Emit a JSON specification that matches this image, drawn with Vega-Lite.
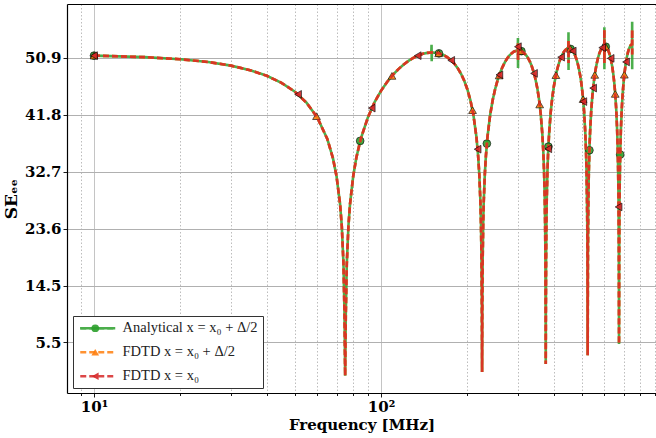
{
  "$schema": "https://vega.github.io/schema/vega-lite/v6.json",
  "width": 589,
  "height": 389,
  "autosize": {"type": "none"},
  "padding": {"left": 67, "top": 4, "right": 0, "bottom": 45},
  "background": "white",
  "config": {"view": {"stroke": null}},
  "datasets": {
    "curve": [
      {"f": 10, "ana": 51.28, "fd1": 51.28, "fd2": 51.28},
      {"f": 15, "ana": 51.04, "fd1": 51.04, "fd2": 51.04},
      {"f": 20, "ana": 50.70, "fd1": 50.70, "fd2": 50.70},
      {"f": 25, "ana": 50.26, "fd1": 50.26, "fd2": 50.26},
      {"f": 30, "ana": 49.68, "fd1": 49.68, "fd2": 49.68},
      {"f": 35, "ana": 48.95, "fd1": 48.95, "fd2": 48.95},
      {"f": 40, "ana": 48.05, "fd1": 48.05, "fd2": 48.05},
      {"f": 45, "ana": 46.93, "fd1": 46.93, "fd2": 46.93},
      {"f": 50, "ana": 45.54, "fd1": 45.54, "fd2": 45.54},
      {"f": 55, "ana": 43.76, "fd1": 43.76, "fd2": 43.76},
      {"f": 60, "ana": 41.38, "fd1": 41.38, "fd2": 41.38},
      {"f": 65, "ana": 37.95, "fd1": 37.95, "fd2": 37.95},
      {"f": 68, "ana": 34.89, "fd1": 34.89, "fd2": 34.89},
      {"f": 70, "ana": 31.98, "fd1": 31.98, "fd2": 31.98},
      {"f": 72, "ana": 27.56, "fd1": 27.56, "fd2": 27.56},
      {"f": 73, "ana": 24.04, "fd1": 24.04, "fd2": 24.04},
      {"f": 74, "ana": 18.02, "fd1": 18.02, "fd2": 18.02},
      {"f": 74.6, "ana": 10.07, "fd1": 10.07, "fd2": 10.07},
      {"f": 75, "ana": 0.1, "fd1": 0.1, "fd2": 0.1},
      {"f": 75.4, "ana": 10.07, "fd1": 10.07, "fd2": 10.07},
      {"f": 76, "ana": 18.03, "fd1": 18.03, "fd2": 18.03},
      {"f": 77, "ana": 24.05, "fd1": 24.05, "fd2": 24.05},
      {"f": 78, "ana": 27.57, "fd1": 27.57, "fd2": 27.57},
      {"f": 80, "ana": 31.99, "fd1": 31.99, "fd2": 31.99},
      {"f": 82, "ana": 34.91, "fd1": 34.91, "fd2": 34.91},
      {"f": 85, "ana": 37.98, "fd1": 37.98, "fd2": 37.98},
      {"f": 90, "ana": 41.40, "fd1": 41.40, "fd2": 41.40},
      {"f": 95, "ana": 43.85, "fd1": 43.85, "fd2": 43.85},
      {"f": 100, "ana": 45.65, "fd1": 45.65, "fd2": 45.65},
      {"f": 105, "ana": 47.06, "fd1": 47.06, "fd2": 47.06},
      {"f": 110, "ana": 48.20, "fd1": 48.20, "fd2": 48.20},
      {"f": 115, "ana": 49.12, "fd1": 49.12, "fd2": 49.12},
      {"f": 120, "ana": 49.87, "fd1": 49.87, "fd2": 49.87},
      {"f": 125, "ana": 50.48, "fd1": 50.48, "fd2": 50.48},
      {"f": 130, "ana": 50.95, "fd1": 50.95, "fd2": 50.95},
      {"f": 135, "ana": 51.31, "fd1": 51.31, "fd2": 51.31},
      {"f": 140, "ana": 51.57, "fd1": 51.57, "fd2": 51.57},
      {"f": 145, "ana": 51.72, "fd1": 51.72, "fd2": 51.72},
      {"f": 149.7, "ana": 51.78, "fd1": 51.78, "fd2": 51.78},
      {"f": 150, "ana": 53.0, "fd1": 51.78, "fd2": 51.78},
      {"f": 150.2, "ana": 50.4, "fd1": 51.78, "fd2": 51.78},
      {"f": 150.4, "ana": 51.78, "fd1": 51.78, "fd2": 51.78},
      {"f": 155, "ana": 51.74, "fd1": 51.74, "fd2": 51.74},
      {"f": 160, "ana": 51.61, "fd1": 51.61, "fd2": 51.61},
      {"f": 165, "ana": 51.37, "fd1": 51.37, "fd2": 51.37},
      {"f": 170, "ana": 51.04, "fd1": 51.04, "fd2": 51.04},
      {"f": 175, "ana": 50.59, "fd1": 50.59, "fd2": 50.59},
      {"f": 180, "ana": 50.01, "fd1": 50.01, "fd2": 50.01},
      {"f": 185, "ana": 49.28, "fd1": 49.28, "fd2": 49.28},
      {"f": 190, "ana": 48.38, "fd1": 48.38, "fd2": 48.38},
      {"f": 195, "ana": 47.26, "fd1": 47.26, "fd2": 47.26},
      {"f": 200, "ana": 45.87, "fd1": 45.87, "fd2": 45.87},
      {"f": 205, "ana": 44.09, "fd1": 44.09, "fd2": 44.09},
      {"f": 210, "ana": 41.71, "fd1": 41.71, "fd2": 41.71},
      {"f": 215, "ana": 38.28, "fd1": 38.28, "fd2": 38.28},
      {"f": 218, "ana": 35.22, "fd1": 35.22, "fd2": 35.22},
      {"f": 220, "ana": 32.31, "fd1": 32.31, "fd2": 32.31},
      {"f": 222, "ana": 27.90, "fd1": 27.90, "fd2": 27.90},
      {"f": 223, "ana": 24.38, "fd1": 24.38, "fd2": 24.38},
      {"f": 224, "ana": 18.36, "fd1": 18.36, "fd2": 18.36},
      {"f": 224.6, "ana": 10.41, "fd1": 10.41, "fd2": 10.41},
      {"f": 225, "ana": 0.7, "fd1": 0.7, "fd2": 0.7},
      {"f": 225.4, "ana": 10.41, "fd1": 10.41, "fd2": 10.41},
      {"f": 226, "ana": 18.37, "fd1": 18.37, "fd2": 18.37},
      {"f": 227, "ana": 24.39, "fd1": 24.39, "fd2": 24.39},
      {"f": 228, "ana": 27.91, "fd1": 27.91, "fd2": 27.91},
      {"f": 230, "ana": 32.34, "fd1": 32.34, "fd2": 32.34},
      {"f": 232, "ana": 35.25, "fd1": 35.25, "fd2": 35.25},
      {"f": 235, "ana": 38.33, "fd1": 38.33, "fd2": 38.33},
      {"f": 240, "ana": 41.78, "fd1": 41.78, "fd2": 41.78},
      {"f": 245, "ana": 44.18, "fd1": 44.18, "fd2": 44.18},
      {"f": 250, "ana": 45.98, "fd1": 45.98, "fd2": 45.98},
      {"f": 255, "ana": 47.39, "fd1": 47.39, "fd2": 47.39},
      {"f": 260, "ana": 48.53, "fd1": 48.53, "fd2": 48.53},
      {"f": 265, "ana": 49.45, "fd1": 49.45, "fd2": 49.45},
      {"f": 270, "ana": 50.20, "fd1": 50.20, "fd2": 50.20},
      {"f": 275, "ana": 50.81, "fd1": 50.81, "fd2": 50.81},
      {"f": 280, "ana": 51.28, "fd1": 51.28, "fd2": 51.28},
      {"f": 285, "ana": 51.64, "fd1": 51.64, "fd2": 51.64},
      {"f": 290, "ana": 51.90, "fd1": 51.90, "fd2": 51.90},
      {"f": 295, "ana": 52.05, "fd1": 52.05, "fd2": 52.05},
      {"f": 299.7, "ana": 52.11, "fd1": 52.11, "fd2": 52.11},
      {"f": 300, "ana": 54.1, "fd1": 53.3, "fd2": 53.3},
      {"f": 300.2, "ana": 49.3, "fd1": 50.6, "fd2": 50.6},
      {"f": 300.4, "ana": 52.11, "fd1": 52.11, "fd2": 52.11},
      {"f": 305, "ana": 52.07, "fd1": 52.07, "fd2": 52.07},
      {"f": 310, "ana": 51.94, "fd1": 51.94, "fd2": 51.94},
      {"f": 315, "ana": 51.70, "fd1": 51.70, "fd2": 51.70},
      {"f": 320, "ana": 51.37, "fd1": 51.37, "fd2": 51.37},
      {"f": 325, "ana": 50.92, "fd1": 50.92, "fd2": 50.92},
      {"f": 330, "ana": 50.34, "fd1": 50.34, "fd2": 50.34},
      {"f": 335, "ana": 49.61, "fd1": 49.61, "fd2": 49.61},
      {"f": 340, "ana": 48.71, "fd1": 48.71, "fd2": 48.71},
      {"f": 345, "ana": 47.59, "fd1": 47.59, "fd2": 47.59},
      {"f": 350, "ana": 46.20, "fd1": 46.20, "fd2": 46.20},
      {"f": 355, "ana": 44.42, "fd1": 44.42, "fd2": 44.42},
      {"f": 360, "ana": 42.04, "fd1": 42.04, "fd2": 42.04},
      {"f": 365, "ana": 38.61, "fd1": 38.61, "fd2": 38.61},
      {"f": 368, "ana": 35.55, "fd1": 35.55, "fd2": 35.55},
      {"f": 370, "ana": 32.64, "fd1": 32.64, "fd2": 32.64},
      {"f": 372, "ana": 28.23, "fd1": 28.23, "fd2": 28.23},
      {"f": 373, "ana": 24.71, "fd1": 24.71, "fd2": 24.71},
      {"f": 374, "ana": 18.69, "fd1": 18.69, "fd2": 18.69},
      {"f": 374.6, "ana": 10.73, "fd1": 10.73, "fd2": 10.73},
      {"f": 375, "ana": 2.0, "fd1": 2.0, "fd2": 2.0},
      {"f": 375.4, "ana": 10.74, "fd1": 10.74, "fd2": 10.74},
      {"f": 376, "ana": 18.70, "fd1": 18.70, "fd2": 18.70},
      {"f": 377, "ana": 24.72, "fd1": 24.72, "fd2": 24.72},
      {"f": 378, "ana": 28.24, "fd1": 28.24, "fd2": 28.24},
      {"f": 380, "ana": 32.67, "fd1": 32.67, "fd2": 32.67},
      {"f": 382, "ana": 35.58, "fd1": 35.58, "fd2": 35.58},
      {"f": 385, "ana": 38.66, "fd1": 38.66, "fd2": 38.66},
      {"f": 390, "ana": 42.11, "fd1": 42.11, "fd2": 42.11},
      {"f": 395, "ana": 44.51, "fd1": 44.51, "fd2": 44.51},
      {"f": 400, "ana": 46.31, "fd1": 46.31, "fd2": 46.31},
      {"f": 405, "ana": 47.72, "fd1": 47.72, "fd2": 47.72},
      {"f": 410, "ana": 48.86, "fd1": 48.86, "fd2": 48.86},
      {"f": 415, "ana": 49.78, "fd1": 49.78, "fd2": 49.78},
      {"f": 420, "ana": 50.53, "fd1": 50.53, "fd2": 50.53},
      {"f": 425, "ana": 51.14, "fd1": 51.14, "fd2": 51.14},
      {"f": 430, "ana": 51.61, "fd1": 51.61, "fd2": 51.61},
      {"f": 435, "ana": 51.97, "fd1": 51.97, "fd2": 51.97},
      {"f": 440, "ana": 52.23, "fd1": 52.23, "fd2": 52.23},
      {"f": 445, "ana": 52.38, "fd1": 52.38, "fd2": 52.38},
      {"f": 449.7, "ana": 52.44, "fd1": 52.44, "fd2": 52.44},
      {"f": 450, "ana": 55.0, "fd1": 53.8, "fd2": 53.8},
      {"f": 450.2, "ana": 49.0, "fd1": 50.1, "fd2": 50.1},
      {"f": 450.4, "ana": 52.44, "fd1": 52.44, "fd2": 52.44},
      {"f": 455, "ana": 52.40, "fd1": 52.40, "fd2": 52.40},
      {"f": 460, "ana": 52.27, "fd1": 52.27, "fd2": 52.27},
      {"f": 465, "ana": 52.03, "fd1": 52.03, "fd2": 52.03},
      {"f": 470, "ana": 51.70, "fd1": 51.70, "fd2": 51.70},
      {"f": 475, "ana": 51.25, "fd1": 51.25, "fd2": 51.25},
      {"f": 480, "ana": 50.67, "fd1": 50.67, "fd2": 50.67},
      {"f": 485, "ana": 49.94, "fd1": 49.94, "fd2": 49.94},
      {"f": 490, "ana": 49.04, "fd1": 49.04, "fd2": 49.04},
      {"f": 495, "ana": 47.92, "fd1": 47.92, "fd2": 47.92},
      {"f": 500, "ana": 46.53, "fd1": 46.53, "fd2": 46.53},
      {"f": 505, "ana": 44.75, "fd1": 44.75, "fd2": 44.75},
      {"f": 510, "ana": 42.37, "fd1": 42.37, "fd2": 42.37},
      {"f": 515, "ana": 38.94, "fd1": 38.94, "fd2": 38.94},
      {"f": 518, "ana": 35.88, "fd1": 35.88, "fd2": 35.88},
      {"f": 520, "ana": 32.97, "fd1": 32.97, "fd2": 32.97},
      {"f": 522, "ana": 28.56, "fd1": 28.56, "fd2": 28.56},
      {"f": 523, "ana": 25.04, "fd1": 25.04, "fd2": 25.04},
      {"f": 524, "ana": 19.02, "fd1": 19.02, "fd2": 19.02},
      {"f": 524.6, "ana": 11.06, "fd1": 11.06, "fd2": 11.06},
      {"f": 525, "ana": 3.4, "fd1": 3.4, "fd2": 3.4},
      {"f": 525.4, "ana": 11.07, "fd1": 11.07, "fd2": 11.07},
      {"f": 526, "ana": 19.03, "fd1": 19.03, "fd2": 19.03},
      {"f": 527, "ana": 25.05, "fd1": 25.05, "fd2": 25.05},
      {"f": 528, "ana": 28.57, "fd1": 28.57, "fd2": 28.57},
      {"f": 530, "ana": 33.00, "fd1": 33.00, "fd2": 33.00},
      {"f": 532, "ana": 35.91, "fd1": 35.91, "fd2": 35.91},
      {"f": 535, "ana": 38.99, "fd1": 38.99, "fd2": 38.99},
      {"f": 540, "ana": 42.44, "fd1": 42.44, "fd2": 42.44},
      {"f": 545, "ana": 44.84, "fd1": 44.84, "fd2": 44.84},
      {"f": 550, "ana": 46.64, "fd1": 46.64, "fd2": 46.64},
      {"f": 555, "ana": 48.05, "fd1": 48.05, "fd2": 48.05},
      {"f": 560, "ana": 49.19, "fd1": 49.19, "fd2": 49.19},
      {"f": 565, "ana": 50.11, "fd1": 50.11, "fd2": 50.11},
      {"f": 570, "ana": 50.86, "fd1": 50.86, "fd2": 50.86},
      {"f": 575, "ana": 51.47, "fd1": 51.47, "fd2": 51.47},
      {"f": 580, "ana": 51.95, "fd1": 51.95, "fd2": 51.95},
      {"f": 585, "ana": 52.30, "fd1": 52.30, "fd2": 52.30},
      {"f": 590, "ana": 52.56, "fd1": 52.56, "fd2": 52.56},
      {"f": 595, "ana": 52.71, "fd1": 52.71, "fd2": 52.71},
      {"f": 599.7, "ana": 52.77, "fd1": 52.77, "fd2": 52.77},
      {"f": 600, "ana": 55.8, "fd1": 55.4, "fd2": 55.4},
      {"f": 600.2, "ana": 49.1, "fd1": 50.1, "fd2": 50.1},
      {"f": 600.4, "ana": 52.77, "fd1": 52.77, "fd2": 52.77},
      {"f": 605, "ana": 52.73, "fd1": 52.73, "fd2": 52.73},
      {"f": 610, "ana": 52.60, "fd1": 52.60, "fd2": 52.60},
      {"f": 615, "ana": 52.36, "fd1": 52.36, "fd2": 52.36},
      {"f": 620, "ana": 52.03, "fd1": 52.03, "fd2": 52.03},
      {"f": 625, "ana": 51.58, "fd1": 51.58, "fd2": 51.58},
      {"f": 630, "ana": 51.00, "fd1": 51.00, "fd2": 51.00},
      {"f": 635, "ana": 50.27, "fd1": 50.27, "fd2": 50.27},
      {"f": 640, "ana": 49.37, "fd1": 49.37, "fd2": 49.37},
      {"f": 645, "ana": 48.25, "fd1": 48.25, "fd2": 48.25},
      {"f": 650, "ana": 46.86, "fd1": 46.86, "fd2": 46.86},
      {"f": 655, "ana": 45.08, "fd1": 45.08, "fd2": 45.08},
      {"f": 660, "ana": 42.70, "fd1": 42.70, "fd2": 42.70},
      {"f": 665, "ana": 39.27, "fd1": 39.27, "fd2": 39.27},
      {"f": 668, "ana": 36.21, "fd1": 36.21, "fd2": 36.21},
      {"f": 670, "ana": 33.30, "fd1": 33.30, "fd2": 33.30},
      {"f": 672, "ana": 28.89, "fd1": 28.89, "fd2": 28.89},
      {"f": 673, "ana": 25.37, "fd1": 25.37, "fd2": 25.37},
      {"f": 674, "ana": 19.35, "fd1": 19.35, "fd2": 19.35},
      {"f": 674.6, "ana": 11.39, "fd1": 11.39, "fd2": 11.39},
      {"f": 675, "ana": 5.2, "fd1": 5.2, "fd2": 5.2},
      {"f": 675.4, "ana": 11.40, "fd1": 11.40, "fd2": 11.40},
      {"f": 676, "ana": 19.36, "fd1": 19.36, "fd2": 19.36},
      {"f": 677, "ana": 25.38, "fd1": 25.38, "fd2": 25.38},
      {"f": 678, "ana": 28.90, "fd1": 28.90, "fd2": 28.90},
      {"f": 680, "ana": 33.33, "fd1": 33.33, "fd2": 33.33},
      {"f": 682, "ana": 36.24, "fd1": 36.24, "fd2": 36.24},
      {"f": 685, "ana": 39.32, "fd1": 39.32, "fd2": 39.32},
      {"f": 690, "ana": 42.77, "fd1": 42.77, "fd2": 42.77},
      {"f": 695, "ana": 45.17, "fd1": 45.17, "fd2": 45.17},
      {"f": 700, "ana": 46.97, "fd1": 46.97, "fd2": 46.97},
      {"f": 705, "ana": 48.38, "fd1": 48.38, "fd2": 48.38},
      {"f": 710, "ana": 49.52, "fd1": 49.52, "fd2": 49.52},
      {"f": 715, "ana": 50.44, "fd1": 50.44, "fd2": 50.44},
      {"f": 720, "ana": 51.19, "fd1": 51.19, "fd2": 51.19},
      {"f": 725, "ana": 51.80, "fd1": 51.80, "fd2": 51.80},
      {"f": 730, "ana": 52.28, "fd1": 52.28, "fd2": 52.28},
      {"f": 735, "ana": 52.63, "fd1": 52.63, "fd2": 52.63},
      {"f": 740, "ana": 52.89, "fd1": 52.89, "fd2": 52.89},
      {"f": 745, "ana": 53.04, "fd1": 53.04, "fd2": 53.04},
      {"f": 749.7, "ana": 53.10, "fd1": 53.10, "fd2": 53.10},
      {"f": 750, "ana": 56.7, "fd1": 55.4, "fd2": 55.4},
      {"f": 750.2, "ana": 49.1, "fd1": 51.2, "fd2": 51.2}
    ],
    "markers": [
      {"series": "m_ana", "f": 10, "v": 51.28},
      {"series": "m_ana", "f": 84.6, "v": 37.65},
      {"series": "m_ana", "f": 159.2, "v": 51.64},
      {"series": "m_ana", "f": 233.8, "v": 37.22},
      {"series": "m_ana", "f": 308.4, "v": 51.99},
      {"series": "m_ana", "f": 383, "v": 36.73},
      {"series": "m_ana", "f": 457.6, "v": 52.35},
      {"series": "m_ana", "f": 532.2, "v": 36.15},
      {"series": "m_ana", "f": 606.8, "v": 52.70},
      {"series": "m_ana", "f": 681.4, "v": 35.47},
      {"series": "m_fd1", "f": 10, "v": 51.28},
      {"series": "m_fd1", "f": 59.6, "v": 41.60},
      {"series": "m_fd1", "f": 109.2, "v": 48.04},
      {"series": "m_fd1", "f": 158.8, "v": 51.65},
      {"series": "m_fd1", "f": 208.4, "v": 42.56},
      {"series": "m_fd1", "f": 258, "v": 48.11},
      {"series": "m_fd1", "f": 307.6, "v": 52.02},
      {"series": "m_fd1", "f": 357.2, "v": 43.47},
      {"series": "m_fd1", "f": 406.8, "v": 48.16},
      {"series": "m_fd1", "f": 456.4, "v": 52.37},
      {"series": "m_fd1", "f": 506, "v": 44.33},
      {"series": "m_fd1", "f": 555.6, "v": 48.20},
      {"series": "m_fd1", "f": 605.2, "v": 52.73},
      {"series": "m_fd1", "f": 654.8, "v": 45.16},
      {"series": "m_fd1", "f": 704.4, "v": 48.23},
      {"series": "m_fd2", "f": 10, "v": 51.28},
      {"series": "m_fd2", "f": 51.41, "v": 45.08},
      {"series": "m_fd2", "f": 92.82, "v": 42.89},
      {"series": "m_fd2", "f": 134.23, "v": 51.27},
      {"series": "m_fd2", "f": 175.64, "v": 50.52},
      {"series": "m_fd2", "f": 217.05, "v": 36.32},
      {"series": "m_fd2", "f": 258.46, "v": 48.21},
      {"series": "m_fd2", "f": 299.87, "v": 52.7},
      {"series": "m_fd2", "f": 341.28, "v": 48.44},
      {"series": "m_fd2", "f": 382.69, "v": 36.39},
      {"series": "m_fd2", "f": 424.1, "v": 51.03},
      {"series": "m_fd2", "f": 465.51, "v": 52.01},
      {"series": "m_fd2", "f": 506.92, "v": 43.93},
      {"series": "m_fd2", "f": 548.33, "v": 46.09},
      {"series": "m_fd2", "f": 589.74, "v": 52.55},
      {"series": "m_fd2", "f": 631.15, "v": 50.84},
      {"series": "m_fd2", "f": 672.56, "v": 27.09},
      {"series": "m_fd2", "f": 713.97, "v": 50.27}
    ]
  },
  "resolve": {"axis": {"x": "independent", "y": "independent"}},
  "layer": [
    {
      "data": {"name": "curve"},
      "mark": {"type": "line", "strokeWidth": 2.6, "opacity": 0.85, "clip": true},
      "encoding": {
        "x": {
          "field": "f", "type": "quantitative",
          "scale": {"type": "log", "domain": [8.052, 908.1], "nice": false},
          "axis": {
            "orient": "bottom",
            "values": [9, 10, 20, 30, 40, 50, 60, 70, 80, 90, 100, 200, 300, 400, 500, 600, 700, 800, 900],
            "labelExpr": "datum.value == 10 ? '10¹' : (datum.value == 100 ? '10²' : '')",
            "labelOverlap": false, "labelFlush": false,
            "grid": true,
            "gridColor": {"condition": {"test": "datum.value == 10 || datum.value == 100", "value": "#b0b0b0"}, "value": "#bdbdbd"},
            "gridDash": {"condition": {"test": "datum.value == 10 || datum.value == 100", "value": [1, 0]}, "value": [1.5, 2]},
            "gridWidth": 1,
            "tickSize": {"condition": {"test": "datum.value == 10 || datum.value == 100", "value": 4}, "value": 2.5},
            "tickColor": "black", "tickWidth": 0.9,
            "domain": true, "domainColor": "black", "domainWidth": 1.2,
            "labelFont": "DejaVu Serif", "labelFontWeight": "bold", "labelFontSize": 15, "labelColor": "black", "labelPadding": 2,
            "title": "Frequency [MHz]", "titleFont": "DejaVu Serif", "titleFontWeight": "bold", "titleFontSize": 15, "titleColor": "black", "titlePadding": 3
          }
        },
        "y": {
          "field": "ana", "type": "quantitative",
          "scale": {"domain": [-2.65, 59.53], "nice": false, "zero": false},
          "axis": {
            "orient": "left",
            "values": [5.5, 14.5, 23.6, 32.7, 41.8, 50.9],
            "format": ".1f",
            "grid": true, "gridColor": "#b0b0b0", "gridWidth": 1,
            "tickSize": 4, "tickColor": "black", "tickWidth": 0.9,
            "domain": true, "domainColor": "black", "domainWidth": 1.2,
            "labelFont": "DejaVu Serif", "labelFontWeight": "bold", "labelFontSize": 15, "labelColor": "black", "labelPadding": 2, "labelFlush": false,
            "title": "SEₑₑ", "titleFont": "DejaVu Serif", "titleFontWeight": "bold", "titleFontSize": 17, "titleColor": "black", "titlePadding": 4
          }
        },
        "color": {
          "datum": "ana", "type": "nominal",
          "scale": {"domain": ["ana", "fd1", "fd2"], "range": ["#2ca02c", "#ff7f0e", "#d62728"]},
          "legend": {
            "orient": "none", "legendX": 6, "legendY": 312, "title": null,
            "fillColor": "white", "strokeColor": "#333333", "cornerRadius": 0, "padding": 5,
            "symbolType": "M-1,0H6", "symbolSize": 100, "symbolStrokeWidth": 2.5, "symbolDash": [6, 3],
            "labelExpr": "datum.value == 'ana' ? 'Analytical x = x₀ + Δ/2' : (datum.value == 'fd1' ? 'FDTD x = x₀ + Δ/2' : 'FDTD x = x₀')",
            "labelFont": "Liberation Serif", "labelFontSize": 14.5, "labelColor": "#222222", "labelOffset": 30, "labelLimit": 300,
            "rowPadding": 9, "zindex": 1
          }
        },
        "strokeWidth": {
          "datum": "solid", "type": "ordinal",
          "scale": {"domain": ["solid"], "range": [2.6, 2.6]},
          "legend": {
            "orient": "none", "legendX": 6, "legendY": 312, "title": null, "padding": 5,
            "symbolType": "M-1,0H6", "symbolSize": 100, "symbolStrokeColor": "#4bae4b", "symbolOpacity": 1,
            "labelExpr": "''", "labelFont": "Liberation Serif", "labelFontSize": 14.5, "rowPadding": 9, "zindex": 2
          }
        }
      }
    },
    {
      "data": {"name": "markers"},
      "transform": [{"filter": "datum.series == 'm_ana'"}],
      "mark": {"type": "point", "filled": true, "opacity": 0.9, "stroke": "black", "strokeWidth": 0.7, "size": 60},
      "encoding": {
        "x": {"field": "f", "type": "quantitative", "scale": {"type": "log", "domain": [8.052, 908.1], "nice": false}, "axis": null},
        "y": {"field": "v", "type": "quantitative", "scale": {"domain": [-2.65, 59.53], "nice": false, "zero": false}, "axis": null},
        "shape": {
          "field": "series", "type": "nominal",
          "scale": {"domain": ["m_ana", "m_fd1", "m_fd2"], "range": ["circle", "triangle-up", "triangle-left"]},
          "legend": {
            "orient": "none", "legendX": 16, "legendY": 312, "title": null, "padding": 5,
            "symbolSize": 60, "symbolStrokeColor": "black", "symbolStrokeWidth": 0.7, "symbolOpacity": 0.9,
            "labelExpr": "''", "labelFont": "Liberation Serif", "labelFontSize": 14.5, "rowPadding": 9, "zindex": 3
          }
        },
        "fill": {
          "field": "series", "type": "nominal",
          "scale": {"domain": ["m_ana", "m_fd1", "m_fd2"], "range": ["#2ca02c", "#ff7f0e", "#d62728"]}
        }
      }
    },
    {
      "data": {"name": "curve"},
      "mark": {"type": "line", "strokeWidth": 2.6, "opacity": 0.85, "clip": true, "strokeDash": [6, 3]},
      "encoding": {
        "x": {
          "field": "f", "type": "quantitative",
          "scale": {"type": "log", "domain": [8.052, 908.1], "nice": false},
          "axis": {"orient": "top", "domain": true, "domainColor": "black", "domainWidth": 1.2, "ticks": false, "labels": false, "grid": false, "title": null}
        },
        "y": {"field": "fd1", "type": "quantitative", "scale": {"domain": [-2.65, 59.53], "nice": false, "zero": false}, "axis": null},
        "color": {"datum": "fd1", "type": "nominal", "scale": {"domain": ["ana", "fd1", "fd2"], "range": ["#2ca02c", "#ff7f0e", "#d62728"]}}
      }
    },
    {
      "data": {"name": "markers"},
      "transform": [{"filter": "datum.series == 'm_fd1'"}],
      "mark": {"type": "point", "filled": true, "opacity": 0.9, "stroke": "black", "strokeWidth": 0.7, "size": 60},
      "encoding": {
        "x": {"field": "f", "type": "quantitative", "scale": {"type": "log", "domain": [8.052, 908.1], "nice": false}, "axis": null},
        "y": {"field": "v", "type": "quantitative", "scale": {"domain": [-2.65, 59.53], "nice": false, "zero": false}, "axis": null},
        "shape": {"field": "series", "type": "nominal", "scale": {"domain": ["m_ana", "m_fd1", "m_fd2"], "range": ["circle", "triangle-up", "triangle-left"]}},
        "fill": {"field": "series", "type": "nominal", "scale": {"domain": ["m_ana", "m_fd1", "m_fd2"], "range": ["#2ca02c", "#ff7f0e", "#d62728"]}}
      }
    },
    {
      "data": {"name": "curve"},
      "mark": {"type": "line", "strokeWidth": 2.6, "opacity": 0.85, "clip": true, "strokeDash": [6, 3]},
      "encoding": {
        "x": {"field": "f", "type": "quantitative", "scale": {"type": "log", "domain": [8.052, 908.1], "nice": false}, "axis": null},
        "y": {"field": "fd2", "type": "quantitative", "scale": {"domain": [-2.65, 59.53], "nice": false, "zero": false}, "axis": null},
        "color": {"datum": "fd2", "type": "nominal", "scale": {"domain": ["ana", "fd1", "fd2"], "range": ["#2ca02c", "#ff7f0e", "#d62728"]}}
      }
    },
    {
      "data": {"name": "markers"},
      "transform": [{"filter": "datum.series == 'm_fd2'"}],
      "mark": {"type": "point", "filled": true, "opacity": 0.9, "stroke": "black", "strokeWidth": 0.7, "size": 60},
      "encoding": {
        "x": {"field": "f", "type": "quantitative", "scale": {"type": "log", "domain": [8.052, 908.1], "nice": false}, "axis": null},
        "y": {"field": "v", "type": "quantitative", "scale": {"domain": [-2.65, 59.53], "nice": false, "zero": false}, "axis": null},
        "shape": {"field": "series", "type": "nominal", "scale": {"domain": ["m_ana", "m_fd1", "m_fd2"], "range": ["circle", "triangle-up", "triangle-left"]}},
        "fill": {"field": "series", "type": "nominal", "scale": {"domain": ["m_ana", "m_fd1", "m_fd2"], "range": ["#2ca02c", "#ff7f0e", "#d62728"]}}
      }
    }
  ]
}
